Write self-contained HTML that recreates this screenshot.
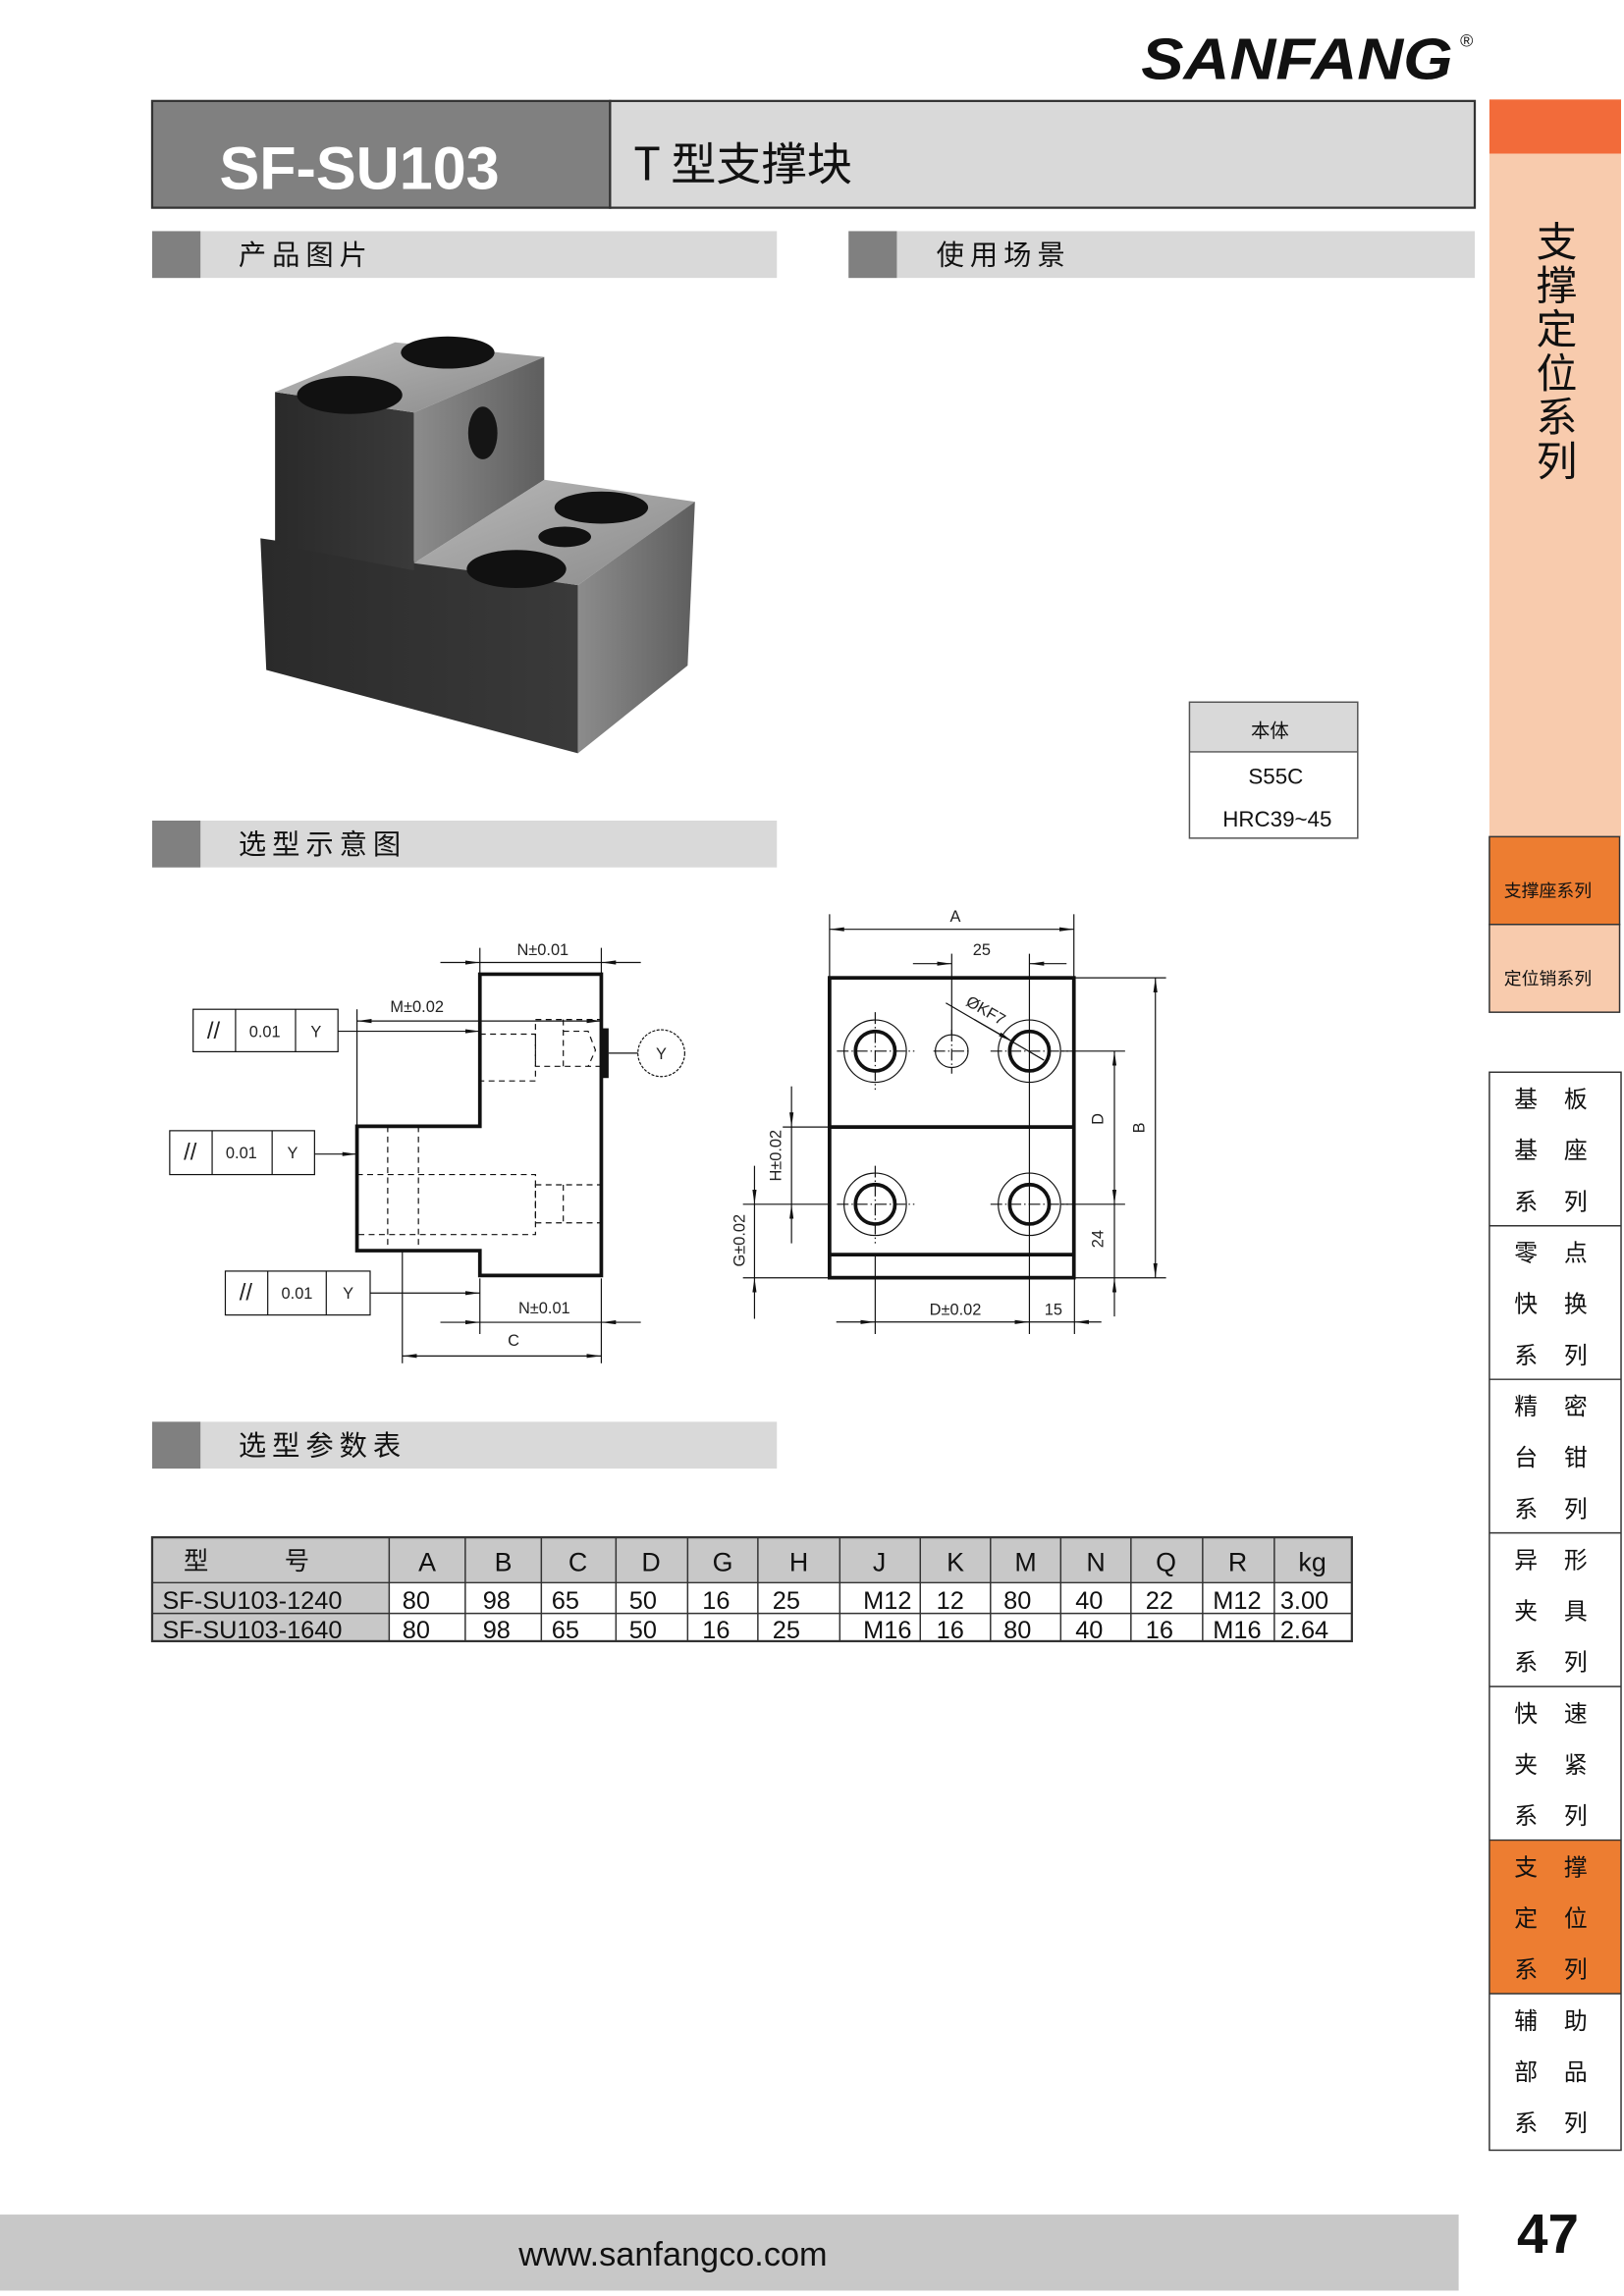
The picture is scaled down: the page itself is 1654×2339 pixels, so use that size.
<!DOCTYPE html>
<html><head><meta charset="utf-8"><style>
html,body{margin:0;padding:0;background:#fff;}
svg{display:block;}
text{font-family:"Liberation Sans","Noto Sans CJK SC",sans-serif;}
.cjk{font-family:"Noto Sans CJK SC","WenQuanYi Zen Hei",sans-serif;}
.d{font-family:"Liberation Sans Narrow","Liberation Sans",sans-serif;font-size:11px;fill:#222;}
</style></head><body>
<svg width="1654" height="2339" viewBox="0 0 1110 1569.66" xmlns="http://www.w3.org/2000/svg">
<defs>
<marker id="ar" viewBox="0 0 10 4" refX="10" refY="2" markerWidth="10" markerHeight="4" orient="auto-start-reverse" markerUnits="userSpaceOnUse"><path d="M0,0.6 L10,2 L0,3.4z" fill="#111"/></marker>
<linearGradient id="gt" x1="0" y1="0" x2="1" y2="1"><stop offset="0" stop-color="#b9b9b9"/><stop offset="1" stop-color="#8a8a8a"/></linearGradient>
<linearGradient id="gs" x1="0" y1="0" x2="1" y2="0"><stop offset="0" stop-color="#8c8c8c"/><stop offset="1" stop-color="#5e5e5e"/></linearGradient>
<linearGradient id="gf" x1="0" y1="0" x2="1" y2="0"><stop offset="0" stop-color="#2a2a2a"/><stop offset="1" stop-color="#3a3a3a"/></linearGradient>
</defs>

<!-- logo -->
<text x="780" y="54" font-size="40" font-weight="bold" font-style="italic" textLength="213" lengthAdjust="spacingAndGlyphs" fill="#111">SANFANG</text>
<text x="998" y="32" font-size="12" fill="#111">®</text>

<!-- header -->
<rect x="104" y="69" width="313" height="73" fill="#808080" stroke="#333" stroke-width="1.5"/>
<rect x="417" y="69" width="591" height="73" fill="#d9d9d9" stroke="#333" stroke-width="1.5"/>
<text x="150" y="129" font-size="41" font-weight="bold" fill="#fff">SF-SU103</text>
<text x="433" y="123" font-size="31" fill="#111" class="cjk">T 型支撑块</text>

<!-- right sidebar -->
<rect x="1018" y="68" width="90" height="37" fill="#f26b3a"/>
<rect x="1018" y="105" width="90" height="467" fill="#f8cbad"/>
<g class="cjk" font-size="28" fill="#111" text-anchor="middle">
<text x="1064" y="175">支</text><text x="1064" y="205">撑</text><text x="1064" y="235">定</text><text x="1064" y="265">位</text><text x="1064" y="295">系</text><text x="1064" y="325">列</text>
</g>
<rect x="1018" y="572" width="89" height="60" fill="#ed7d31" stroke="#333" stroke-width="1"/>
<rect x="1018" y="632" width="89" height="60" fill="#f8cbad" stroke="#333" stroke-width="1"/>
<text x="1058" y="613" font-size="12" text-anchor="middle" class="cjk" fill="#111">支撑座系列</text>
<text x="1058" y="673" font-size="12" text-anchor="middle" class="cjk" fill="#111">定位销系列</text>

<!-- nav -->
<rect x="1018" y="1258" width="90" height="105" fill="#ed7d31"/>
<rect x="1018" y="733" width="90" height="737" fill="none" stroke="#333" stroke-width="1"/>
<g stroke="#333" stroke-width="1">
<line x1="1018" y1="838" x2="1108" y2="838"/><line x1="1018" y1="943" x2="1108" y2="943"/><line x1="1018" y1="1048" x2="1108" y2="1048"/><line x1="1018" y1="1153" x2="1108" y2="1153"/><line x1="1018" y1="1258" x2="1108" y2="1258"/><line x1="1018" y1="1363" x2="1108" y2="1363"/>
</g>
<g class="cjk" font-size="16" fill="#111" text-anchor="middle">
<text x="1043" y="757">基</text><text x="1077" y="757">板</text><text x="1043" y="792">基</text><text x="1077" y="792">座</text><text x="1043" y="827">系</text><text x="1077" y="827">列</text>
<text x="1043" y="862">零</text><text x="1077" y="862">点</text><text x="1043" y="897">快</text><text x="1077" y="897">换</text><text x="1043" y="932">系</text><text x="1077" y="932">列</text>
<text x="1043" y="967">精</text><text x="1077" y="967">密</text><text x="1043" y="1002">台</text><text x="1077" y="1002">钳</text><text x="1043" y="1037">系</text><text x="1077" y="1037">列</text>
<text x="1043" y="1072">异</text><text x="1077" y="1072">形</text><text x="1043" y="1107">夹</text><text x="1077" y="1107">具</text><text x="1043" y="1142">系</text><text x="1077" y="1142">列</text>
<text x="1043" y="1177">快</text><text x="1077" y="1177">速</text><text x="1043" y="1212">夹</text><text x="1077" y="1212">紧</text><text x="1043" y="1247">系</text><text x="1077" y="1247">列</text>
<text x="1043" y="1282">支</text><text x="1077" y="1282">撑</text><text x="1043" y="1317">定</text><text x="1077" y="1317">位</text><text x="1043" y="1352">系</text><text x="1077" y="1352">列</text>
<text x="1043" y="1387">辅</text><text x="1077" y="1387">助</text><text x="1043" y="1422">部</text><text x="1077" y="1422">品</text><text x="1043" y="1457">系</text><text x="1077" y="1457">列</text>
</g>

<!-- section headers -->
<g>
<rect x="104" y="158" width="427" height="32" fill="#d9d9d9"/><rect x="104" y="158" width="33" height="32" fill="#808080"/>
<text x="163" y="181" font-size="19" letter-spacing="4" class="cjk" fill="#111">产品图片</text>
<rect x="580" y="158" width="428" height="32" fill="#d9d9d9"/><rect x="580" y="158" width="33" height="32" fill="#808080"/>
<text x="640" y="181" font-size="19" letter-spacing="4" class="cjk" fill="#111">使用场景</text>
<rect x="104" y="561" width="427" height="32" fill="#d9d9d9"/><rect x="104" y="561" width="33" height="32" fill="#808080"/>
<text x="163" y="584" font-size="19" letter-spacing="4" class="cjk" fill="#111">选型示意图</text>
<rect x="104" y="972" width="427" height="32" fill="#d9d9d9"/><rect x="104" y="972" width="33" height="32" fill="#808080"/>
<text x="163" y="995" font-size="19" letter-spacing="4" class="cjk" fill="#111">选型参数表</text>
</g>

<!-- 3D product -->
<g>
<polygon points="178,368 395,400 395,515 182,458" fill="url(#gf)"/>
<polygon points="188,268 283,282 283,390 188,372" fill="url(#gf)"/>
<polygon points="188,268 270,234 372,244 283,282" fill="url(#gt)"/>
<polygon points="283,282 372,244 372,328 283,385" fill="url(#gs)"/>
<polygon points="283,385 372,328 475,343 395,400" fill="url(#gt)"/>
<polygon points="395,400 475,343 470,455 395,515" fill="url(#gs)"/>
<ellipse cx="306" cy="241" rx="32" ry="11" fill="#111"/>
<ellipse cx="239" cy="270" rx="36" ry="13" fill="#111"/>
<ellipse cx="330" cy="296" rx="10" ry="18" fill="#151515"/>
<ellipse cx="411" cy="347" rx="32" ry="11" fill="#111"/>
<ellipse cx="353" cy="389" rx="34" ry="13" fill="#111"/>
<ellipse cx="386" cy="367" rx="18" ry="7" fill="#111"/>
</g>

<!-- material table -->
<rect x="813" y="480" width="115" height="34" fill="#d9d9d9"/>
<rect x="813" y="480" width="115" height="93" fill="none" stroke="#555" stroke-width="1"/>
<line x1="813" y1="514" x2="928" y2="514" stroke="#555"/>
<text x="868" y="504" font-size="13" text-anchor="middle" class="cjk" fill="#111">本体</text>
<text x="872" y="536" font-size="15" text-anchor="middle" fill="#111">S55C</text>
<text x="873" y="565" font-size="15" text-anchor="middle" fill="#111">HRC39~45</text>

<!-- left drawing -->
<g fill="none" stroke="#111">
<path d="M328,666 H411 V872 H328 V855 H244 V770 H328 Z" stroke-width="2.5"/>
<rect x="411" y="703" width="5" height="34" fill="#111" stroke="none"/>
<line x1="416" y1="720" x2="436" y2="720" stroke-width="0.8"/>
<circle cx="452" cy="720" r="16" stroke-width="0.8" stroke-dasharray="2,1"/>
<g stroke-dasharray="4,3" stroke-width="0.8">
<rect x="328" y="707" width="38" height="32"/>
<rect x="366" y="697" width="45" height="32"/>
<line x1="385" y1="697" x2="385" y2="729"/>
<path d="M385,705 H402 L407,718 L402,729"/>
<rect x="244" y="803" width="122" height="41"/>
<rect x="366" y="810" width="45" height="26"/>
<line x1="385" y1="810" x2="385" y2="836"/>
<line x1="265" y1="770" x2="265" y2="855"/>
<line x1="286" y1="770" x2="286" y2="855"/>
</g>
<g stroke-width="0.8">
<line x1="328" y1="648" x2="328" y2="666"/><line x1="411" y1="648" x2="411" y2="666"/>
<line x1="301" y1="658" x2="328" y2="658" marker-end="url(#ar)"/><line x1="438" y1="658" x2="411" y2="658" marker-end="url(#ar)"/><line x1="328" y1="658" x2="411" y2="658"/>
<line x1="244" y1="690" x2="244" y2="770"/>
<line x1="244" y1="698" x2="411" y2="698" marker-start="url(#ar)" marker-end="url(#ar)"/>
<rect x="132" y="690" width="99" height="29"/><line x1="161" y1="690" x2="161" y2="719"/><line x1="202" y1="690" x2="202" y2="719"/>
<line x1="231" y1="705" x2="328" y2="705" marker-end="url(#ar)"/>
<rect x="116" y="773" width="99" height="30"/><line x1="145" y1="773" x2="145" y2="803"/><line x1="186" y1="773" x2="186" y2="803"/>
<line x1="215" y1="789" x2="244" y2="789" marker-end="url(#ar)"/>
<rect x="154" y="869" width="99" height="30"/><line x1="183" y1="869" x2="183" y2="899"/><line x1="223" y1="869" x2="223" y2="899"/>
<line x1="253" y1="884" x2="328" y2="884" marker-end="url(#ar)"/>
<line x1="328" y1="874" x2="328" y2="912"/><line x1="411" y1="874" x2="411" y2="932"/>
<line x1="301" y1="904" x2="328" y2="904" marker-end="url(#ar)"/><line x1="438" y1="904" x2="411" y2="904" marker-end="url(#ar)"/><line x1="328" y1="904" x2="411" y2="904"/>
<line x1="275" y1="855" x2="275" y2="932"/>
<line x1="275" y1="927" x2="411" y2="927" marker-start="url(#ar)" marker-end="url(#ar)"/>
</g>
</g>
<g class="d">
<text x="371" y="653" text-anchor="middle">N±0.01</text>
<text x="285" y="692" text-anchor="middle">M±0.02</text>
<text x="372" y="898" text-anchor="middle">N±0.01</text>
<text x="351" y="920" text-anchor="middle">C</text>
<text x="452" y="724" text-anchor="middle">Y</text>
<text x="146" y="710" text-anchor="middle" font-size="16">//</text><text x="181" y="709" text-anchor="middle">0.01</text><text x="216" y="709" text-anchor="middle">Y</text>
<text x="130" y="793" text-anchor="middle" font-size="16">//</text><text x="165" y="792" text-anchor="middle">0.01</text><text x="200" y="792" text-anchor="middle">Y</text>
<text x="168" y="889" text-anchor="middle" font-size="16">//</text><text x="203" y="888" text-anchor="middle">0.01</text><text x="238" y="888" text-anchor="middle">Y</text>
</g>

<!-- right drawing -->
<g fill="none" stroke="#111">
<rect x="567" y="668.5" width="167" height="205" stroke-width="2.5"/>
<line x1="567" y1="770.5" x2="734" y2="770.5" stroke-width="2.5"/>
<line x1="567" y1="857.7" x2="734" y2="857.7" stroke-width="2.5"/>
<g stroke-width="0.8">
<circle cx="598.2" cy="718.6" r="21.3"/><circle cx="598.2" cy="718.6" r="13.5" stroke-width="2.5"/>
<circle cx="703.6" cy="718.6" r="21.3"/><circle cx="703.6" cy="718.6" r="13.5" stroke-width="2.5"/>
<circle cx="598.2" cy="823.3" r="21.3"/><circle cx="598.2" cy="823.3" r="13.5" stroke-width="2.5"/>
<circle cx="703.6" cy="823.3" r="21.3"/><circle cx="703.6" cy="823.3" r="13.5" stroke-width="2.5"/>
<circle cx="650.5" cy="718.6" r="11.2"/>
<g stroke-dasharray="8,2,1,2">
<line x1="572" y1="718.6" x2="625" y2="718.6"/><line x1="638" y1="718.6" x2="663" y2="718.6"/><line x1="677" y1="718.6" x2="730" y2="718.6"/>
<line x1="572" y1="823.3" x2="625" y2="823.3"/><line x1="677" y1="823.3" x2="730" y2="823.3"/>
<line x1="598.2" y1="692" x2="598.2" y2="745"/><line x1="598.2" y1="797" x2="598.2" y2="850"/>
<line x1="650.5" y1="704" x2="650.5" y2="734"/>
</g>
<line x1="567" y1="625" x2="567" y2="668"/><line x1="734" y1="625" x2="734" y2="668"/>
<line x1="567" y1="635.3" x2="734" y2="635.3" marker-start="url(#ar)" marker-end="url(#ar)"/>
<line x1="650.5" y1="652" x2="650.5" y2="707"/><line x1="703.6" y1="652" x2="703.6" y2="912"/>
<line x1="624" y1="658.8" x2="650.5" y2="658.8" marker-end="url(#ar)"/><line x1="729" y1="658.8" x2="703.6" y2="658.8" marker-end="url(#ar)"/>
<line x1="646.5" y1="685.7" x2="713.6" y2="724.8"/>
<line x1="666" y1="697" x2="692" y2="712" marker-end="url(#ar)"/>
<line x1="734" y1="668.5" x2="797" y2="668.5"/><line x1="734" y1="873.6" x2="797" y2="873.6"/>
<line x1="789.7" y1="668.5" x2="789.7" y2="873.6" marker-start="url(#ar)" marker-end="url(#ar)"/>
<line x1="725" y1="718.6" x2="769" y2="718.6"/><line x1="725" y1="823.3" x2="769" y2="823.3"/>
<line x1="761.7" y1="718.6" x2="761.7" y2="823.3" marker-start="url(#ar)" marker-end="url(#ar)"/>
<line x1="761.7" y1="823.3" x2="761.7" y2="873.6"/>
<line x1="761.7" y1="900" x2="761.7" y2="873.6" marker-end="url(#ar)"/>
<line x1="535" y1="770.5" x2="567" y2="770.5"/><line x1="507.8" y1="823.3" x2="567" y2="823.3"/>
<line x1="541" y1="742.7" x2="541" y2="770.5" marker-end="url(#ar)"/><line x1="541" y1="850" x2="541" y2="823.3" marker-end="url(#ar)"/><line x1="541" y1="770.5" x2="541" y2="823.3"/>
<line x1="507.8" y1="873.6" x2="567" y2="873.6"/>
<line x1="515.7" y1="797" x2="515.7" y2="823.3" marker-end="url(#ar)"/><line x1="515.7" y1="901.6" x2="515.7" y2="873.6" marker-end="url(#ar)"/><line x1="515.7" y1="823.3" x2="515.7" y2="873.6"/>
<line x1="598.2" y1="857" x2="598.2" y2="912"/><line x1="734.4" y1="873.6" x2="734.4" y2="912"/>
<line x1="571.6" y1="903.8" x2="598.2" y2="903.8" marker-end="url(#ar)"/><line x1="598.2" y1="903.8" x2="703.6" y2="903.8" marker-end="url(#ar)"/>
<line x1="703.6" y1="903.8" x2="734.4" y2="903.8"/><line x1="752.8" y1="903.8" x2="734.4" y2="903.8" marker-end="url(#ar)"/>
</g>
</g>
<g class="d">
<text x="653" y="630" text-anchor="middle">A</text>
<text x="671" y="653" text-anchor="middle">25</text>
<text x="672" y="694" transform="rotate(30 672 694)" text-anchor="middle">ØKF7</text>
<text x="653" y="899" text-anchor="middle">D±0.02</text>
<text x="720" y="899" text-anchor="middle">15</text>
<text x="782" y="771" transform="rotate(-90 782 771)" text-anchor="middle">B</text>
<text x="754" y="765" transform="rotate(-90 754 765)" text-anchor="middle">D</text>
<text x="754" y="847" transform="rotate(-90 754 847)" text-anchor="middle">24</text>
<text x="534" y="790" transform="rotate(-90 534 790)" text-anchor="middle">H±0.02</text>
<text x="509" y="848" transform="rotate(-90 509 848)" text-anchor="middle">G±0.02</text>
</g>

<!-- parameter table -->
<g>
<rect x="104" y="1051" width="820" height="31" fill="#c8c8c8"/>
<rect x="104" y="1082" width="162" height="40" fill="#c8c8c8"/>
<g stroke="#333" stroke-width="1" fill="none">
<rect x="104" y="1051" width="820" height="71" stroke-width="1.5"/>
<line x1="104" y1="1082" x2="924" y2="1082"/><line x1="104" y1="1103" x2="924" y2="1103"/>
<line x1="266" y1="1051" x2="266" y2="1122"/><line x1="318" y1="1051" x2="318" y2="1122"/><line x1="370" y1="1051" x2="370" y2="1122"/><line x1="421" y1="1051" x2="421" y2="1122"/><line x1="470" y1="1051" x2="470" y2="1122"/><line x1="518" y1="1051" x2="518" y2="1122"/><line x1="574" y1="1051" x2="574" y2="1122"/><line x1="629" y1="1051" x2="629" y2="1122"/><line x1="677" y1="1051" x2="677" y2="1122"/><line x1="725" y1="1051" x2="725" y2="1122"/><line x1="773" y1="1051" x2="773" y2="1122"/><line x1="822" y1="1051" x2="822" y2="1122"/><line x1="871" y1="1051" x2="871" y2="1122"/>
</g>
<g font-size="18" fill="#111" text-anchor="middle">
<text x="134" y="1073" class="cjk" font-size="17">型</text><text x="203" y="1073" class="cjk" font-size="17">号</text>
<text x="292" y="1074">A</text><text x="344" y="1074">B</text><text x="395" y="1074">C</text><text x="445" y="1074">D</text><text x="494" y="1074">G</text><text x="546" y="1074">H</text><text x="601" y="1074">J</text><text x="653" y="1074">K</text><text x="701" y="1074">M</text><text x="749" y="1074">N</text><text x="797" y="1074">Q</text><text x="846" y="1074">R</text><text x="897" y="1074">kg</text>
</g>
<g font-size="17" fill="#111">
<text x="111" y="1100">SF-SU103-1240</text><text x="111" y="1120">SF-SU103-1640</text>
<text x="275" y="1100">80</text><text x="330" y="1100">98</text><text x="377" y="1100">65</text><text x="430" y="1100">50</text><text x="480" y="1100">16</text><text x="528" y="1100">25</text><text x="590" y="1100">M12</text><text x="640" y="1100">12</text><text x="686" y="1100">80</text><text x="735" y="1100">40</text><text x="783" y="1100">22</text><text x="829" y="1100">M12</text><text x="875" y="1100">3.00</text>
<text x="275" y="1120">80</text><text x="330" y="1120">98</text><text x="377" y="1120">65</text><text x="430" y="1120">50</text><text x="480" y="1120">16</text><text x="528" y="1120">25</text><text x="590" y="1120">M16</text><text x="640" y="1120">16</text><text x="686" y="1120">80</text><text x="735" y="1120">40</text><text x="783" y="1120">16</text><text x="829" y="1120">M16</text><text x="875" y="1120">2.64</text>
</g>
</g>

<!-- footer -->
<rect x="0" y="1514" width="997" height="52" fill="#c8c8c8"/>
<text x="460" y="1549" font-size="23" text-anchor="middle" fill="#111">www.sanfangco.com</text>
<text x="1058" y="1540" font-size="38" font-weight="bold" text-anchor="middle" fill="#111">47</text>
</svg>
</body></html>
